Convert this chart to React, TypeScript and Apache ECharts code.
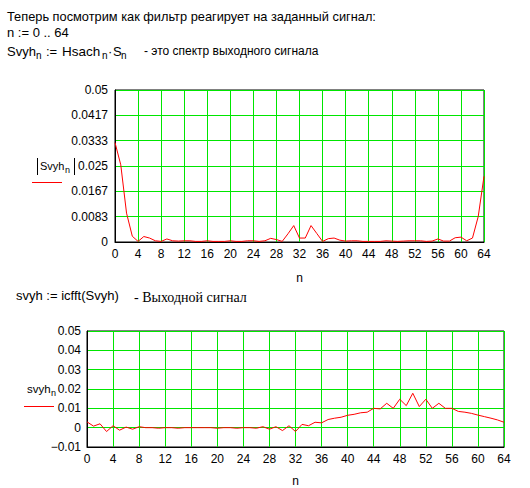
import React, { useEffect, useRef } from "react";
import * as echarts from "echarts";

// n = 0 .. 64
const nValues: number[] = Array.from({ length: 65 }, (_, i) => i);

// |Svyh_n| — output spectrum magnitude
const svyhSpectrum: number[] = [
  0.0327, 0.0254, 0.0095, 0.0019, 0.0002, 0.0018, 0.0013, 0.0004, 0.0002, 0.001,
  0.0004, 0.0003, 0.0004, 0.0004, 0.0002, 0.0002, 0.0004, 0.0002, 0.0002, 0.0002,
  0.0004, 0.0002, 0.0002, 0.0004, 0.0004, 0.0002, 0.0004, 0.0012, 0.0008, 0.0002,
  0.0027, 0.0054, 0.0013, 0.0013, 0.0054, 0.0028, 0.0002, 0.0011, 0.0013, 0.0006,
  0.0003, 0.0004, 0.0004, 0.0002, 0.0002, 0.0002, 0.0002, 0.0004, 0.0003, 0.0002,
  0.0003, 0.0004, 0.0004, 0.0004, 0.0002, 0.0003, 0.001, 0.0003, 0.0003, 0.0014,
  0.0016, 0.0004, 0.0013, 0.0084, 0.0216,
];

// svyh_n — output signal
const svyhSignal: number[] = [
  0.003, 0.0008, 0.002, -0.002, 0.001, -0.0013, 0.0003, -0.0008, 0.0005, 0,
  0, -0.0003, 0, 0, -0.0003, 0, 0, 0, 0, 0,
  -0.0003, 0, 0, -0.0003, 0, 0, -0.0003, 0.0005, -0.0008, 0.0005,
  -0.0015, 0.001, -0.002, 0.0017, 0.001, 0.0028, 0.0025, 0.0042, 0.0049, 0.0054,
  0.0064, 0.0069, 0.0077, 0.008, 0.01, 0.0097, 0.0126, 0.01, 0.0147, 0.0114,
  0.0178, 0.0109, 0.0147, 0.01, 0.0126, 0.01, 0.01, 0.0084, 0.008, 0.0074,
  0.0065, 0.0057, 0.0049, 0.004, 0.0028,
];

const topYTickLabels: string[] = ["0", "0.0083", "0.0167", "0.025", "0.0333", "0.0417", "0.05"];
const bottomYTickLabels: string[] = ["\u22120.01", "0", "0.01", "0.02", "0.03", "0.04", "0.05"];

const topYMin = 0;
const topYMax = 0.05;
const bottomYMin = -0.01;
const bottomYMax = 0.05;

const SANS = "Arial, 'Liberation Sans', sans-serif";
const SERIF = "'Times New Roman', 'Liberation Serif', serif";
const GRID_GREEN = "#00e600";

function txt(x: number, y: number, text: string, fontSize = 12, family = SANS) {
  return {
    type: "text",
    x,
    y,
    style: {
      text,
      fontSize,
      fontFamily: family,
      fill: "#000",
      verticalAlign: "middle",
      align: "left",
    },
  };
}

export default function App() {
  const ref = useRef<HTMLDivElement>(null);

  useEffect(() => {
    if (!ref.current) return;
    const chart = echarts.init(ref.current, null, { renderer: "svg" });

    const topInterval = (topYMax - topYMin) / (topYTickLabels.length - 1);
    const bottomInterval = 0.01;

    const xAxisCommon = {
      type: "value",
      min: 0,
      max: 64,
      interval: 4,
      axisLine: { show: true, onZero: false, lineStyle: { color: "#000", width: 1 } },
      axisTick: { show: false },
      splitLine: { show: true, lineStyle: { color: GRID_GREEN, width: 1 } },
      axisLabel: { color: "#000", fontSize: 12, fontFamily: SANS, margin: 6 },
      name: "n",
      nameLocation: "middle",
      nameTextStyle: { color: "#000", fontSize: 12, fontFamily: SANS },
    };

    const option = {
      animation: false,
      backgroundColor: "#fff",
      grid: [
        { left: 115, top: 90, width: 369, height: 152, show: true, borderColor: "#000", borderWidth: 1, backgroundColor: "transparent" },
        { left: 87, top: 331, width: 417, height: 119, show: true, borderColor: "#000", borderWidth: 1, backgroundColor: "transparent" },
      ],
      xAxis: [
        { ...xAxisCommon, gridIndex: 0, nameGap: 30 },
        { ...xAxisCommon, gridIndex: 1, nameGap: 28 },
      ],
      yAxis: [
        {
          type: "value",
          gridIndex: 0,
          min: topYMin,
          max: topYMax,
          interval: topInterval,
          axisLine: { show: true, onZero: false, lineStyle: { color: "#000", width: 1 } },
          axisTick: { show: false },
          splitLine: { show: true, lineStyle: { color: GRID_GREEN, width: 1 } },
          axisLabel: {
            color: "#000",
            fontSize: 12,
            fontFamily: SANS,
            margin: 7,
            showMinLabel: true,
            showMaxLabel: true,
            formatter: (v: number) => topYTickLabels[Math.round((v - topYMin) / topInterval)] ?? "",
          },
        },
        {
          type: "value",
          gridIndex: 1,
          min: bottomYMin,
          max: bottomYMax,
          interval: bottomInterval,
          axisLine: { show: true, onZero: false, lineStyle: { color: "#000", width: 1 } },
          axisTick: { show: false },
          splitLine: { show: true, lineStyle: { color: GRID_GREEN, width: 1 } },
          axisLabel: {
            color: "#000",
            fontSize: 12,
            fontFamily: SANS,
            margin: 6,
            formatter: (v: number) => bottomYTickLabels[Math.round((v - bottomYMin) / bottomInterval)] ?? "",
          },
        },
      ],
      series: [
        {
          type: "line",
          xAxisIndex: 0,
          yAxisIndex: 0,
          data: nValues.map((n, i) => [n, svyhSpectrum[i]]),
          showSymbol: false,
          lineStyle: { color: "#ff0000", width: 1 },
          itemStyle: { color: "#ff0000" },
          clip: true,
        },
        {
          type: "line",
          xAxisIndex: 1,
          yAxisIndex: 1,
          data: nValues.map((n, i) => [n, svyhSignal[i]]),
          showSymbol: false,
          lineStyle: { color: "#ff0000", width: 1 },
          itemStyle: { color: "#ff0000" },
          clip: true,
        },
      ],
      graphic: [
        txt(7, 16, "Теперь посмотрим как фильтр реагирует на заданный сигнал:", 12.8),
        txt(7, 32, "n := 0 .. 64", 13),
        // Svyh_n := Hsach_n·S_n
        txt(7, 51, "Svyh", 13),
        txt(36, 55, "n", 10),
        txt(46, 51, ":=", 13),
        txt(62, 51, "Hsach", 13.5),
        txt(102, 55, "n", 10),
        txt(108, 51, "·", 13),
        txt(113, 51, "S", 13),
        txt(121, 55, "n", 10),
        txt(144, 51, "- это спектр выходного сигнала", 12),
        // |Svyh_n| label
        { type: "line", shape: { x1: 37.5, y1: 158, x2: 37.5, y2: 175 }, style: { stroke: "#000", lineWidth: 1 } },
        { type: "line", shape: { x1: 74.5, y1: 158, x2: 74.5, y2: 175 }, style: { stroke: "#000", lineWidth: 1 } },
        txt(40, 166, "Svyh", 11),
        txt(65, 170, "n", 9),
        { type: "line", shape: { x1: 32, y1: 182.5, x2: 62, y2: 182.5 }, style: { stroke: "#ff0000", lineWidth: 1 } },
        // svyh := icfft(Svyh)
        txt(16, 295, "svyh := icfft(Svyh)", 13),
        txt(134, 297, "- Выходной сигнал", 14, SERIF),
        // svyh_n label
        txt(27, 389, "svyh", 11.5),
        txt(51, 393, "n", 9),
        { type: "line", shape: { x1: 24, y1: 406.5, x2: 54, y2: 406.5 }, style: { stroke: "#ff0000", lineWidth: 1 } },
      ],
    };

    chart.setOption(option as any);
    return () => chart.dispose();
  }, []);

  return (
    <div
      ref={ref}
      style={{ position: "absolute", left: 0, top: 0, width: 530, height: 488 }}
    />
  );
}
